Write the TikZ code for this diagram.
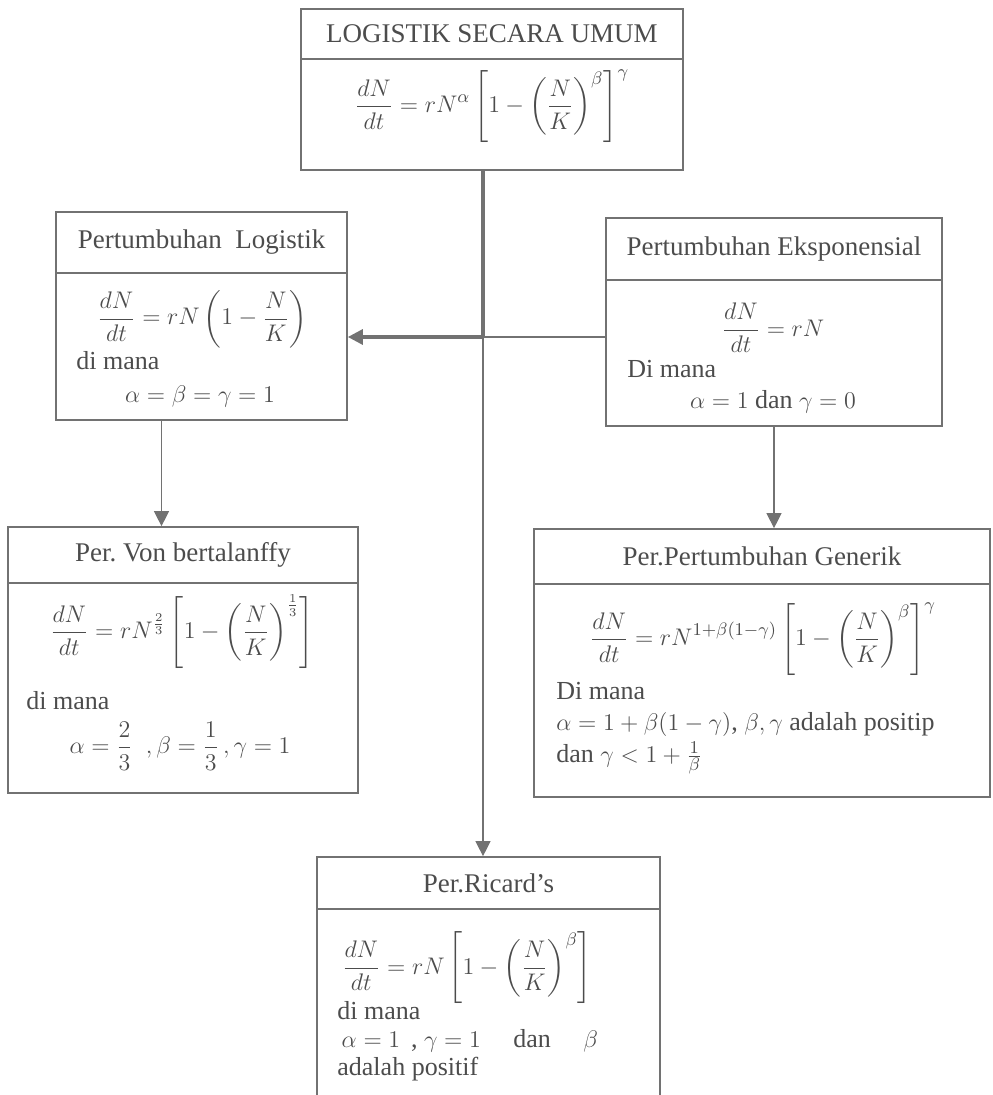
\documentclass[tikz,border=0pt]{standalone}
\usepackage{amsmath}
\usepackage{fontspec}
\setmainfont{Liberation Serif}
\usetikzlibrary{arrows.meta,fit,positioning}
\definecolor{scangray}{HTML}{727272}
\definecolor{inkgray}{HTML}{4C4C4C}
\tikzset{
  cell/.style={draw=scangray,line width=0.85pt,inner sep=0pt},
  body/.style={inner sep=0pt,text=inkgray,font=\fontsize{13}{15}\selectfont},
  title/.style={body,font=\fontsize{13.5}{15}\selectfont},
  line/.style={draw=scangray,line width=0.6pt},
  mainline/.style={draw=scangray,line width=1.6pt},
  arrow/.style={-{Triangle[length=7.5pt,width=7.5pt]},draw=scangray,fill=scangray,line width=0.6pt},
  mainarrow/.style={-{Triangle[length=7.5pt,width=7.5pt]},draw=scangray,fill=scangray,line width=1.6pt}
}
\frenchspacing

\begin{document}
\begin{tikzpicture}[x=0.5pt,y=-0.5pt]
\useasboundingbox (0,0) rectangle (992,1095);
\clip (0,0) rectangle (992,1095);

% general form
\node[cell,fit={(301,9)(683,59)}] (umumhead) {};
\node[cell,fit={(301,59)(683,170)}] (umum) {};
\node[title] (umumtitle) at (umumhead.center) {LOGISTIK SECARA UMUM};
\node[body] (umumeq) at (492,106)
  {$\displaystyle \frac{dN}{dt}=rN^{\alpha}\left[1-\left(\frac{N}{K}\right)^{\beta}\right]^{\gamma}$};

% logistic growth
\node[cell,fit={(56,212)(347,273)}] (logistikhead) {};
\node[cell,fit={(56,273)(347,420)}] (logistik) {};
\node[title] (logistiktitle) at (logistikhead.center) {Pertumbuhan\ \ Logistik};
\node[body] (logistikeq) at (202,319)
  {$\displaystyle \frac{dN}{dt}=rN\left(1-\frac{N}{K}\right)$};
\node[body,anchor=west] (logistikdm) at (76,361) {di mana};
\node[body] (logistikpar) at (200,397) {$\alpha=\beta=\gamma=1$};

% exponential growth
\node[cell,fit={(606,218)(942,280)}] (eksphead) {};
\node[cell,fit={(606,280)(942,426)}] (eksp) {};
\node[title] (eksptitle) at (eksphead.center) {Pertumbuhan Eksponensial};
\node[body] (ekspeq) at (773,328) {$\displaystyle \frac{dN}{dt}=rN$};
\node[body,anchor=west] (ekspdm) at (627,369) {Di mana};
\node[body] (eksppar) at (773,402) {$\alpha=1$ dan $\gamma=0$};

% von bertalanffy
\node[cell,fit={(8,527)(358,583)}] (vonhead) {};
\node[cell,fit={(8,583)(358,793)}] (von) {};
\node[title] (vontitle) at (vonhead.center) {Per. Von bertalanffy};
\node[body] (voneq) at (182,632)
  {$\displaystyle \frac{dN}{dt}=rN^{\frac{2}{3}}\left[1-\left(\frac{N}{K}\right)^{\frac{1}{3}}\right]$};
\node[body,anchor=west] (vondm) at (26,701) {di mana};
\node[body] (vonpar) at (180,746)
  {$\displaystyle \alpha=\frac{2}{3}\ \ ,\beta=\frac{1}{3}\,,\gamma=1$};

% generic growth
\node[cell,fit={(534,529)(990,584)}] (generikhead) {};
\node[cell,fit={(534,584)(990,797)}] (generik) {};
\node[title] (generiktitle) at (generikhead.center) {Per.Pertumbuhan Generik};
\node[body] (generikeq) at (763,639)
  {$\displaystyle \frac{dN}{dt}=rN^{1+\beta(1-\gamma)}\left[1-\left(\frac{N}{K}\right)^{\beta}\right]^{\gamma}$};
\node[body,anchor=west] (generikdm) at (556,691) {Di mana};
\node[body,anchor=west] (generikpar) at (556,724)
  {$\alpha=1+\beta(1-\gamma)$, $\beta,\gamma$ adalah positip};
\node[body,anchor=west] (generikcond) at (556,758) {dan $\gamma<1+\frac{1}{\beta}$};

% ricards
\node[cell,fit={(317,857)(660,909)}] (ricardhead) {};
\node[cell,fit={(317,909)(660,1130)}] (ricard) {};
\node[title] (ricardtitle) at (ricardhead.center) {Per.Ricard’s};
\node[body] (ricardeq) at (467,968)
  {$\displaystyle \frac{dN}{dt}=rN\left[1-\left(\frac{N}{K}\right)^{\beta}\right]$};
\node[body,anchor=west] (ricarddm) at (337,1011) {di mana};
\node[body,anchor=west] (ricardpar) at (337,1041)
  {\,$\alpha=1$\ \,,\ $\gamma=1$\quad\ dan\quad\ $\beta$};
\node[body,anchor=west] (ricardpos) at (337,1069) {adalah positif};

% connectors
\coordinate (hub) at (483,337);
\draw[mainline] (hub |- umum.south) -- (hub);
\draw[mainarrow] (hub) -- (hub -| logistik.east);
\draw[line] (hub) -- (hub -| eksp.west);
\draw[arrow] (hub) -- (hub |- ricardhead.north);
\draw[arrow] ([xshift=-20pt]logistik.south) -- ([xshift=-20pt]logistik.south |- vonhead.north);
\draw[arrow] (eksp.south) -- (eksp.south |- generikhead.north);
\end{tikzpicture}
\end{document}
